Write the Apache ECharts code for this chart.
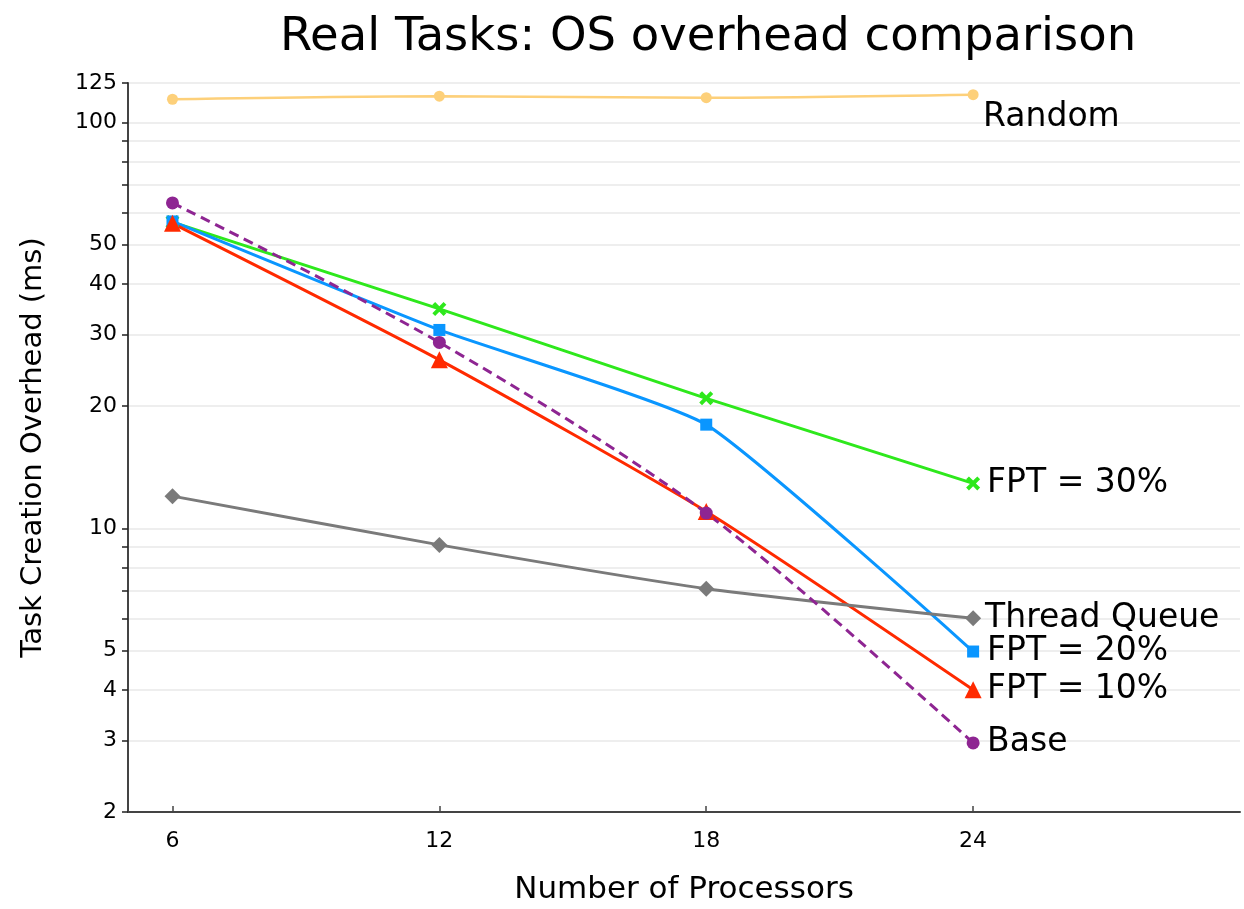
<!DOCTYPE html>
<html>
<head>
<meta charset="utf-8">
<script src="https://cdn.jsdelivr.net/npm/echarts@6/dist/echarts.min.js"></script>
<style>
  html, body { margin: 0; padding: 0; background: #fff; }
  #chart { width: 1244px; height: 909px; }
</style>
</head>
<body>
<div id="chart"></div>
<script>
// values
const processors = [6, 12, 18, 24]
const randomVals = [114, 116, 115, 117]
const fpt30 = [56.8, 34.7, 20.9, 12.9]
const fpt20 = [57, 30.8, 18.0, 4.97]
const fpt10 = [56.4, 26.0, 11.0, 4.0]
const baseVals = [63.3, 28.7, 10.9, 2.96]
const threadQueue = [12, 9.1, 7.1, 6.0]

const xTicks = [6, 12, 18, 24]
const yTicks = [2, 3, 4, 5, 6, 7, 8, 9, 10, 20, 30, 40, 50, 60, 70, 80, 90, 100, 125]
const yLabels = [2, 3, 4, 5, 10, 20, 30, 40, 50, 100, 125]

const font = 'DejaVu Sans'
const crossPath = 'path://M2,0 L5,3 L8,0 L10,2 L7,5 L10,8 L8,10 L5,7 L2,10 L0,8 L3,5 L0,2 Z'

const pairs = vals => processors.map((x, i) => [x, vals[i]])

const labelStyle = (name, offset) => ({
  show: true,
  formatter: name,
  color: '#000',
  fontFamily: font,
  fontSize: 33,
  distance: 14,
  offset: offset || [0, 0]
})

const makeSeries = (name, vals, color, symbol, size, extra) => Object.assign({
  name: name,
  type: 'line',
  data: pairs(vals),
  symbol: symbol,
  symbolSize: size,
  showAllSymbol: true,
  itemStyle: { color: color },
  lineStyle: { color: color, width: 3 },
  endLabel: labelStyle(name)
}, extra)

const chart = echarts.init(document.getElementById('chart'))

const option = {
  animation: false,
  backgroundColor: '#fff',
  title: {
    text: 'Real Tasks: OS overhead comparison',
    left: 703,
    top: 9,
    textAlign: 'center',
    textStyle: { fontFamily: font, fontSize: 46.5, fontWeight: 'normal', color: '#000' }
  },
  grid: { left: 128, right: 4, top: 83, bottom: 97, containLabel: false, outerBoundsMode: 'none' },
  xAxis: {
    type: 'value',
    min: 5,
    max: 30,
    name: 'Number of Processors',
    nameLocation: 'middle',
    nameGap: 62,
    nameTextStyle: { fontFamily: font, fontSize: 31, color: '#000' },
    axisLine: { show: true, lineStyle: { color: '#444', width: 2 } },
    axisTick: { show: true, inside: true, length: 6, customValues: xTicks, lineStyle: { color: '#444', width: 1.5 } },
    axisLabel: { customValues: xTicks, fontFamily: font, fontSize: 22, color: '#000', margin: 18 },
    splitLine: { show: false }
  },
  yAxis: {
    type: 'log',
    logBase: 10,
    min: 2,
    max: 125,
    name: 'Task Creation Overhead (ms)',
    nameLocation: 'middle',
    nameGap: 80,
    nameTextStyle: { fontFamily: font, fontSize: 29, color: '#000' },
    axisLine: { show: true, lineStyle: { color: '#444', width: 2 } },
    axisTick: { show: true, length: 6, customValues: yTicks, lineStyle: { color: '#222', width: 1.5 } },
    axisLabel: { customValues: yLabels, fontFamily: font, fontSize: 22, color: '#000', margin: 11 },
    splitLine: { show: true, lineStyle: { color: '#e8e8e8', width: 1.5 } }
  },
  series: [
    makeSeries('Random', randomVals, '#fdd07a', 'circle', 11, {
      lineStyle: { color: '#fdd07a', width: 2.5 },
      smooth: 0.3,
      endLabel: labelStyle('Random', [-4, 23])
    }),
    makeSeries('FPT = 30%', fpt30, '#2ee81c', crossPath, 14, {}),
    makeSeries('FPT = 20%', fpt20, '#0a96ff', 'rect', 12, { smooth: 0.15 }),
    makeSeries('FPT = 10%', fpt10, '#ff2a00', 'triangle', 17, { smooth: 0.2 }),
    makeSeries('Thread Queue', threadQueue, '#7a7a7a', 'diamond', 16, {
      smooth: 0.2,
      endLabel: labelStyle('Thread Queue', [-2, 0])
    }),
    makeSeries('Base', baseVals, '#8e2592', 'circle', 13, {
      smooth: 0.3,
      lineStyle: { color: '#8e2592', width: 3, type: [10, 6] }
    })
  ]
}

chart.setOption(option)
</script>
</body>
</html>
